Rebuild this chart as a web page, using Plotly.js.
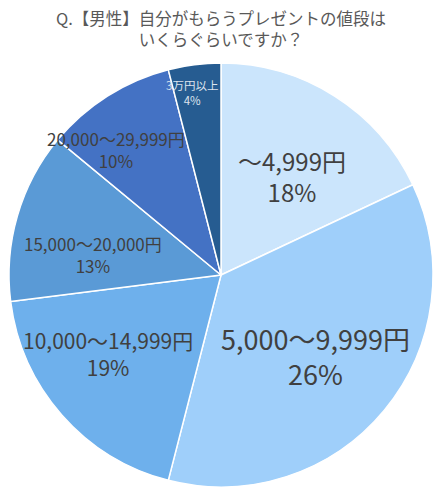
<!DOCTYPE html>
<html>
<head>
<meta charset="utf-8">
<script src="https://cdn.plot.ly/plotly-3.0.1.min.js"></script>
<style>
  html, body { margin: 0; padding: 0; background: #fff; }
  #chart { width: 442px; height: 500px; }
</style>
</head>
<body>
<div id="chart"></div>
<script>
  // price ranges, slice sizes and the printed percentages
  const priceRanges = ["～4,999円", "5,000～9,999円", "10,000～14,999円", "15,000～20,000円", "20,000～29,999円", "3万円以上"];
  const sliceValues = [18, 36, 19, 13, 10, 4];
  const printedPct = ["18%", "26%", "19%", "13%", "10%", "4%"];

  const sliceColors = ["#CBE5FC", "#9FCFFA", "#6EB0EC", "#5A9AD6", "#4472C4", "#265C91"];
  const labelSizes = [24, 27, 21, 17, 17, 11.5];
  const labelColors = ["#404040", "#404040", "#404040", "#404040", "#404040", "#dde4ee"];
  // label placement: fraction of radius and a small turn (degrees) off the mid angle
  const labelRadius = [0.575, 0.585, 0.65, 0.61, 0.77, 0.87];
  const labelTurn = [3.5, 1, 6.5, -7, -7.5, -2];

  const W = 442, H = 500;
  const cx = 221, cy = 275, R = 212;
  const fontFam = "Noto Sans CJK JP, Noto Sans, sans-serif";

  const trace = {
    type: "pie",
    labels: priceRanges,
    values: sliceValues,
    text: printedPct,
    textinfo: "none",
    hoverinfo: "label+text",
    sort: false,
    direction: "clockwise",
    rotation: 0,
    marker: { colors: sliceColors, line: { color: "#ffffff", width: 1.5 } },
    domain: { x: [(cx - R) / W, (cx + R) / W], y: [1 - (cy + R) / H, 1 - (cy - R) / H] },
  };

  const total = sliceValues.reduce((a, b) => a + b, 0);
  let cum = 0;
  const annotations = sliceValues.map((v, i) => {
    const mid = ((cum + v / 2) / total) * 2 * Math.PI + (labelTurn[i] * Math.PI) / 180;
    cum += v;
    const px = cx + labelRadius[i] * R * Math.sin(mid);
    const py = cy - labelRadius[i] * R * Math.cos(mid);
    return {
      xref: "paper",
      yref: "paper",
      x: px / W,
      y: 1 - py / H,
      xanchor: "center",
      yanchor: "middle",
      showarrow: false,
      text: priceRanges[i] + "<br>" + printedPct[i],
      font: { family: fontFam, size: labelSizes[i], color: labelColors[i] },
    };
  });

  const layout = {
    width: W,
    height: H,
    margin: { l: 0, r: 0, t: 0, b: 0 },
    showlegend: false,
    paper_bgcolor: "#ffffff",
    title: {
      text: "Q.【男性】自分がもらうプレゼントの値段は<br>いくらぐらいですか？",
      x: 0.5,
      xanchor: "center",
      y: 1 - 25 / H,
      yanchor: "middle",
      font: { family: "Noto Sans CJK JP, sans-serif", size: 16.5, color: "#595959" },
    },
    annotations: annotations,
  };

  Plotly.newPlot("chart", [trace], layout, { displayModeBar: false });
</script>
</body>
</html>
